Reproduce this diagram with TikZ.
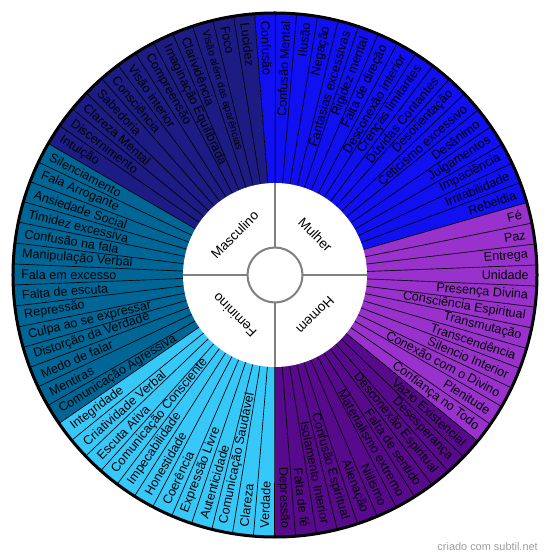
\documentclass[tikz,border=0pt]{standalone}
\usepackage{fontspec}
\setmainfont{Liberation Sans}
\usepackage{xcolor}
\definecolor{wnavy}{RGB}{28,28,132}
\definecolor{wblue}{RGB}{16,16,240}
\definecolor{wviolet}{RGB}{153,50,204}
\definecolor{wplum}{RGB}{88,10,140}
\definecolor{wsky}{RGB}{55,200,250}
\definecolor{wteal}{RGB}{0,102,150}
\usepackage{tikz}
\def\wheelstart{94.5}
\def\wheelstep{4.615385}

\begin{document}
\begin{tikzpicture}[x=0.75pt, y=0.75pt,
    wlabel/.style={font=\fontsize{9.45}{11}\selectfont, inner sep=0pt},
    hublabel/.style={font=\fontsize{10.1}{12}\selectfont, inner sep=0pt},
    spoke/.style={black, line width=0.5pt},
    hubline/.style={black!50, line width=1.5pt}]
\useasboundingbox (-275,-284) rectangle (275,275);

% === Coloured sectors ===
\foreach \s/\n/\col in {0/17/wblue, 17/12/wviolet, 29/11/wplum, 40/12/wsky, 52/14/wteal, 66/12/wnavy} {
    \pgfmathsetmacro{\a}{\wheelstart-\s*\wheelstep}
    \pgfmathsetmacro{\b}{\wheelstart-(\s+\n)*\wheelstep}
    \fill[\col] (0,0) -- (\a:262) arc[start angle=\a, end angle=\b, radius=262] -- cycle;
}

% Spokes between wedges
\foreach \k in {0,...,77} {
    \pgfmathsetmacro{\a}{\wheelstart-\k*\wheelstep}
    \draw[spoke] (\a:92) -- (\a:262);
}

% Wedge labels
\foreach \txt [count=\k from 0] in {Confusão, Confusão Mental, Ilusão, Negação, Fantasias excessivas, Rigidez mental, Falta de direção, Desconexão interior, Crenças limitantes, Dúvidas Contantes, Desorientação, Ceticismo excessivo, Desânimo, Julgamentos, Impaciência, Irritabilidade, Rebeldia,
    Fé, Paz, Entrega, Unidade, Presença Divina, Consciência Espiritual, Transmutação, Transcendência, Silencio Interior, Conexão com o Divino, Plenitude, Confiança no Todo,
    Vazio Existencial, Desesperança, Desconexão Espiritual, Falta de sentido, Materialismo extremo, Niilismo, Alienação, Confusão Espiritual, Isolamento Interior, Falta de fé, Depressão,
    Verdade, Clareza, Comunicação Saudável, Autenticidade, Expressão Livre, Coerência, Honestidade, Impecabilidade, Comunicação Consciente, Escuta Ativa, Criatividade Verbal, Integridade,
    Comunicação Agressiva, Mentiras, Medo de falar, Distorção da Verdade, Culpa ao se expressar, Repressão, Falta de escuta, Fala em excesso, Manipulação Verbal, Confusão na fala, Timidez excessiva, Ansiedade Social, Fala Arrogante, Silenciamento,
    Intuição, Discernimento, Clareza Mental, Sabedoria, Consciência, Visão interior, Compreensão, Imaginação Equilibrada, Clarividência, \fontsize{7.75}{9}\selectfont Visão além das aparências, Foco, Lucidez} {
    \pgfmathsetmacro{\m}{\wheelstart-(\k+0.5)*\wheelstep}
    \pgfmathtruncatemacro{\rside}{cos(\m)>=0}
    \ifnum\rside=1
        \node[wlabel, anchor=east, rotate=\m] (t\k) at (\m:254) {\txt};
    \else
        \node[wlabel, anchor=west, rotate=\m+180] (t\k) at (\m:254) {\txt};
    \fi
}

% === Hub ===
\fill[white] (0,0) circle (92);
\draw[hubline] (0,0) circle (27.5);
\foreach \a in {0,90,180,270} {
    \draw[hubline] (\a:27.5) -- (\a:92);
}
\node[hublabel, rotate=45] (masc) at (135:57) {Masculino};
\node[hublabel, rotate=-45] (mulher) at (45:57) {Mulher};
\node[hublabel, rotate=-135] (homem) at (-45:57) {Homem};
\node[hublabel, rotate=135] (fem) at (-135:57) {Feminino};

% Outer rim
\draw[line width=2.25pt] (0,0) circle (262);

% Credit
\node[font=\fontsize{8.2}{10}\selectfont, text=black!38, anchor=east, inner sep=0pt] (credit) at (263,-272) {criado com subtil.net};

\end{tikzpicture}
\end{document}
